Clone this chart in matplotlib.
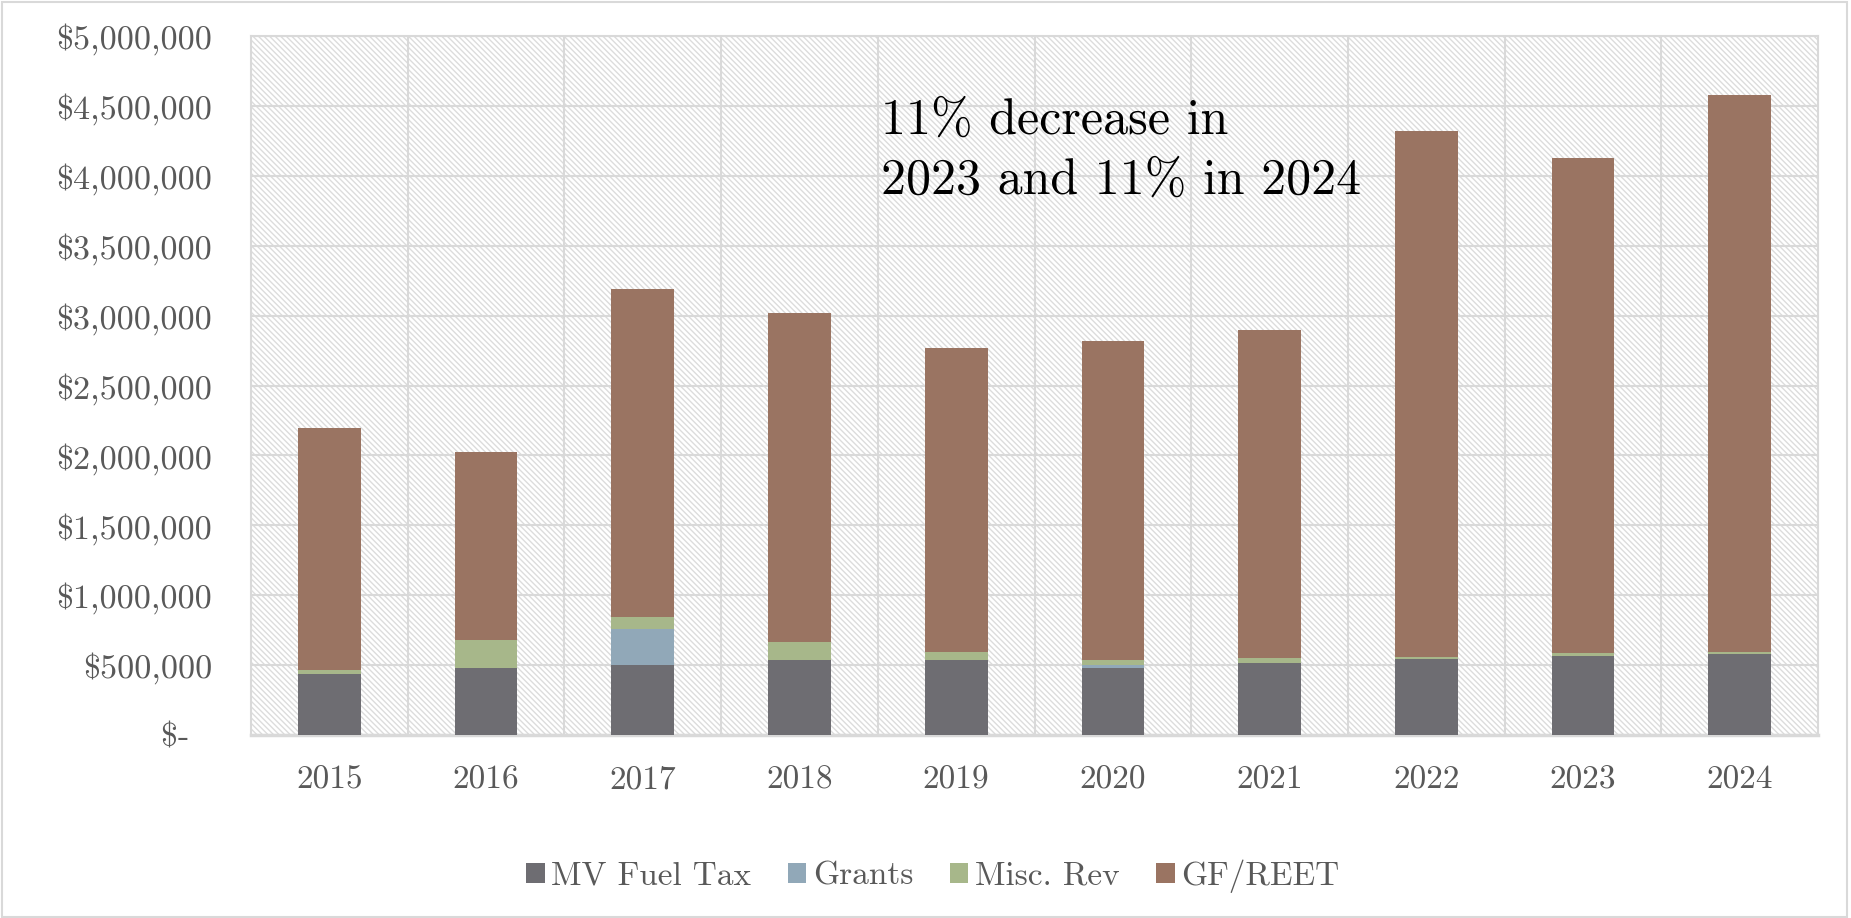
import numpy as np
import matplotlib
matplotlib.use('Agg')
import matplotlib.pyplot as plt
from matplotlib.patches import Rectangle

# Revenue sources by year (dollars)
years = ['2015', '2016', '2017', '2018', '2019', '2020', '2021', '2022', '2023', '2024']
mv_fuel_tax = [435000, 478000, 502000, 536000, 534000, 476000, 517000, 541000, 568000, 582000]
grants = [0, 0, 254000, 0, 0, 26000, 0, 0, 0, 0]
misc_rev = [29000, 201000, 85000, 131000, 60000, 34000, 34000, 15000, 17000, 15000]
gf_reet = [1732000, 1343000, 2349000, 2349000, 2176000, 2284000, 2349000, 3764000, 3545000, 3983000]

series_names = ['MV Fuel Tax', 'Grants', 'Misc. Rev', 'GF/REET']
series_colors = ['#6e6d72', '#91a8b8', '#a7b78a', '#9a7462']
note = '11% decrease in\n2023 and 11% in 2024'

plt.rcParams['font.family'] = ['cmr10', 'DejaVu Serif']
plt.rcParams['hatch.color'] = '#dcdcdc'
plt.rcParams['hatch.linewidth'] = 1.0

grid_col = '#d9d9d9'
text_col = '#595959'

fig = plt.figure(figsize=(18.51, 9.18), dpi=100)
ax = fig.add_axes([0.1356, 0.1993, 0.8466, 0.7615])

# hatched plot area like the Excel pattern fill
ax.patch.set_facecolor('white')
ax.patch.set_edgecolor('#dcdcdc')
ax.patch.set_linewidth(0)
ax.patch.set_hatch('\\\\\\\\\\\\')

x = np.arange(len(years))
bottom = np.zeros(len(years))
for vals, name, col in zip([mv_fuel_tax, grants, misc_rev, gf_reet], series_names, series_colors):
    ax.bar(x, vals, width=0.4, bottom=bottom, color=col, label=name, zorder=3)
    bottom += np.array(vals)

ax.set_xlim(-0.5, len(years) - 0.5)
ax.set_ylim(0, 5000000)
yt = np.arange(0, 5000001, 500000)
ax.set_yticks(yt)
ax.set_yticklabels(['\\$-  ' if v == 0 else '\\${:,.0f}'.format(v) for v in yt])
ax.set_xticks(x)
ax.set_xticklabels(years)
ax.set_xticks(x[:-1] + 0.5, minor=True)

ax.set_axisbelow(True)
ax.grid(axis='y', color=grid_col, linewidth=1.5)
ax.grid(axis='x', which='minor', color=grid_col, linewidth=1.5)
ax.tick_params(axis='both', which='both', length=0, labelsize=24, labelcolor=text_col)
ax.tick_params(axis='y', labelsize=24.5, pad=28)
ax.tick_params(axis='x', pad=22)
for s in ax.spines.values():
    s.set_color(grid_col)
    s.set_linewidth(1.5)
ax.spines['bottom'].set_linewidth(2.5)

fig.text(881 / 1851, 1 - 98 / 918, note, fontsize=36, color='black',
         ha='left', va='top', linespacing=1.4)

leg = fig.legend(loc='center', bbox_to_anchor=(0.504, 0.046), ncol=4, frameon=False,
                 fontsize=24, handlelength=0.55, handleheight=0.55, handletextpad=0.2,
                 columnspacing=1.1)
for t in leg.get_texts():
    t.set_color(text_col)

# outer chart border
fig.patches.append(Rectangle((0.001, 0.001), 0.997, 0.997, transform=fig.transFigure,
                             fill=False, edgecolor=grid_col, linewidth=1.5))

fig.savefig('out.png', dpi=100)
